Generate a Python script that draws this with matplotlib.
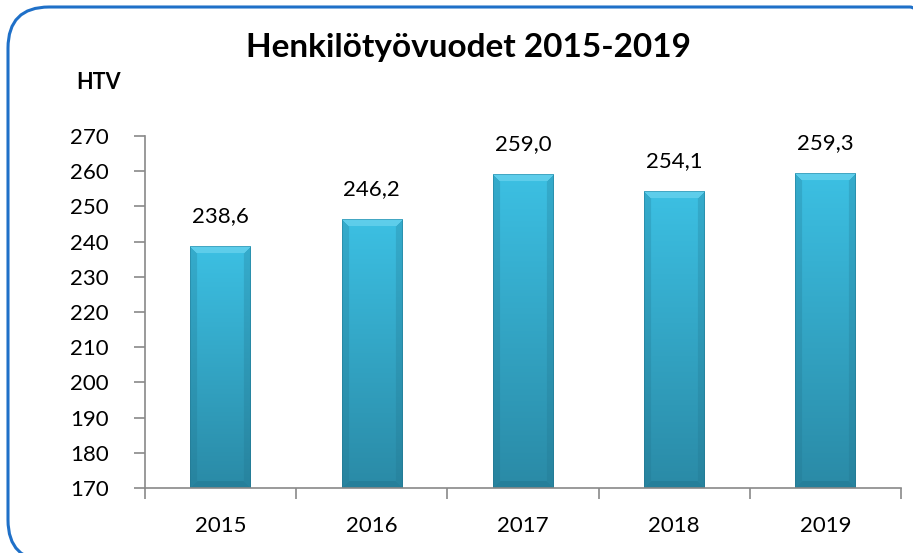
import matplotlib
matplotlib.use("Agg")
import matplotlib.pyplot as plt
import numpy as np
from matplotlib.patches import FancyBboxPatch
from matplotlib.colors import to_rgb

years = ["2015", "2016", "2017", "2018", "2019"]
values = [238.6, 246.2, 259.0, 254.1, 259.3]
yticks = [170, 180, 190, 200, 210, 220, 230, 240, 250, 260, 270]
title = "Henkilötyövuodet 2015-2019"
ylabel = "HTV"

plt.rcParams['font.family'] = ['Lato', 'DejaVu Sans']

W, H, DPI = 913, 553, 100
fig = plt.figure(figsize=(W / DPI, H / DPI), dpi=DPI)
fig.patch.set_facecolor("white")

# rounded border
border = FancyBboxPatch((8 / W, -8 / H), (W + 30) / W, (H + 1) / H,
                        boxstyle="round,pad=0,rounding_size=0.045",
                        transform=fig.transFigure, fill=False,
                        edgecolor="#1f70c8", linewidth=2.2,
                        mutation_aspect=W / H, clip_on=False)
fig.patches.append(border)

ax = fig.add_axes([145 / W, 1 - 488 / H, 756 / W, 352 / H])
x = np.arange(len(years))
bars = ax.bar(x, values, width=0.40, bottom=0, color="none", zorder=2)
ax.set_ylim(170, 270)
ax.set_xlim(-0.5, len(years) - 0.5)
ax.set_yticks(yticks)
ax.set_yticklabels([str(t) for t in yticks], fontsize=16)
ax.set_xticks(x)
ax.set_xticklabels(years, fontsize=16)
ax.set_xticks(np.arange(-0.5, len(years), 1.0), minor=True)
ax.tick_params(axis="x", which="major", length=0, pad=20)
ax.tick_params(axis="x", which="minor", length=8, color="#898989", width=1.2)
ax.tick_params(axis="y", length=8, color="#898989", width=1.2, pad=18)
for s in ["top", "right"]:
    ax.spines[s].set_visible(False)
for s in ["left", "bottom"]:
    ax.spines[s].set_color("#898989")
    ax.spines[s].set_linewidth(1.2)

# bevelled gradient bars
top_c = np.array(to_rgb("#3cc0e3"))
bot_c = np.array(to_rgb("#2a8aa6"))
light = np.array(to_rgb("#7ad9f2"))
dark = np.array(to_rgb("#1f6f88"))
fig.canvas.draw()
for b in bars:
    x0, w = b.get_x(), b.get_width()
    y0, y1 = 170, b.get_height()
    p0 = ax.transData.transform((x0, y0))
    p1 = ax.transData.transform((x0 + w, y1))
    pw = max(int(round(p1[0] - p0[0])), 2)
    ph = max(int(round(p1[1] - p0[1])), 2)
    yy = np.linspace(0, 1, ph)[:, None]  # 0 top, 1 bottom
    img = top_c * (1 - yy[..., None]) + bot_c * yy[..., None]
    img = np.repeat(img, pw, axis=1)
    bev = 7
    ii, jj = np.mgrid[0:ph, 0:pw]
    dtop = ii
    dbot = ph - 1 - ii
    dleft = jj
    dright = pw - 1 - jj
    dmin = np.minimum(np.minimum(dtop, dbot), np.minimum(dleft, dright))
    mask = dmin < bev
    top_m = mask & (dtop == dmin)
    side_m = mask & ((dleft == dmin) | (dright == dmin)) & ~top_m
    bot_m = mask & (dbot == dmin) & ~top_m & ~side_m
    img[top_m] = img[top_m] * 0.45 + light * 0.55
    img[side_m] = img[side_m] * 0.75 + dark * 0.25
    img[bot_m] = img[bot_m] * 0.6 + dark * 0.4
    edge = dmin < 1
    img[edge] = img[edge] * 0.6 + dark * 0.4
    ax.imshow(img, extent=(x0, x0 + w, y0, y1), aspect="auto",
              interpolation="bilinear", zorder=2)
    ax.annotate(f"{b.get_height():.1f}".replace(".", ","),
                (x0 + w / 2, y1), xytext=(0, 15), textcoords="offset points",
                ha="center", va="bottom", fontsize=16)

ax.set_xlim(-0.5, len(years) - 0.5)
ax.set_ylim(170, 270)

fig.text(468 / W, 1 - 48 / H, title, ha="center", va="center",
         fontsize=24, fontweight="bold")
fig.text(98 / W, 1 - 82 / H, ylabel, ha="center", va="center",
         fontsize=15.5, fontweight="bold")

fig.savefig("out.png", dpi=DPI)
